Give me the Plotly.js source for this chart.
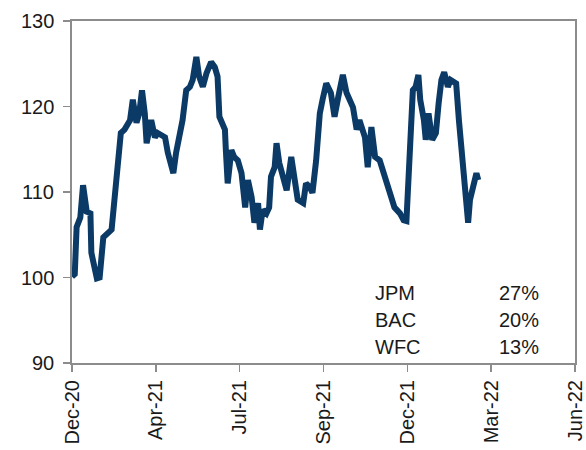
<!DOCTYPE html>
<html>
<head>
<meta charset="utf-8">
<script src="https://cdn.plot.ly/plotly-3.0.1.min.js"></script>
<style>
html,body{margin:0;padding:0;background:#fff;}
#chart{width:586px;height:450px;}
</style>
</head>
<body>
<div id="chart"></div>
<script>
const dates = [
"2020-12-31","2021-01-03","2021-01-05","2021-01-09","2021-01-12","2021-01-16","2021-01-20","2021-01-21",
"2021-01-27","2021-01-30","2021-02-03","2021-02-08","2021-02-12","2021-02-15","2021-02-19","2021-02-22",
"2021-02-26","2021-03-04","2021-03-07","2021-03-11","2021-03-14","2021-03-17","2021-03-20","2021-03-22",
"2021-03-27","2021-03-31","2021-04-03","2021-04-11","2021-04-14","2021-04-20","2021-04-23","2021-04-27",
"2021-04-30","2021-05-04","2021-05-08","2021-05-11","2021-05-15","2021-05-18","2021-05-22","2021-05-26",
"2021-05-31","2021-06-04","2021-06-07","2021-06-09","2021-06-15","2021-06-16","2021-06-18","2021-06-22",
"2021-06-25","2021-06-29","2021-07-03","2021-07-07","2021-07-10","2021-07-14","2021-07-17","2021-07-21",
"2021-07-23","2021-07-26","2021-07-30","2021-08-02","2021-08-04","2021-08-08","2021-08-10","2021-08-13",
"2021-08-17","2021-08-21","2021-08-26","2021-08-30","2021-09-02","2021-09-08","2021-09-11","2021-09-15",
"2021-09-18","2021-09-22","2021-09-26","2021-09-29","2021-10-03","2021-10-08","2021-10-12","2021-10-16",
"2021-10-21","2021-10-25","2021-10-28","2021-11-01","2021-11-05","2021-11-08","2021-11-14","2021-11-17",
"2021-11-21","2021-11-25","2021-11-30","2021-12-04","2021-12-09","2021-12-13","2021-12-16","2021-12-22",
"2021-12-26","2021-12-29","2022-01-01","2022-01-05","2022-01-08","2022-01-11","2022-01-13","2022-01-17",
"2022-01-19","2022-01-22","2022-01-26","2022-01-30","2022-02-02","2022-02-05","2022-02-08","2022-02-12",
"2022-02-15","2022-02-21","2022-02-24","2022-02-26","2022-03-02","2022-03-06","2022-03-08","2022-03-11",
"2022-03-15","2022-03-17"
];
const values = [
100.1,100.4,105.9,107.0,110.8,107.7,107.5,102.9,
99.9,100.0,104.7,105.2,105.6,109.0,113.7,116.9,
117.3,118.4,120.8,118.1,119.2,121.9,119.2,115.7,
118.4,116.4,116.9,116.4,114.6,112.2,114.6,116.5,
118.4,121.9,122.3,123.1,125.8,123.5,122.3,123.9,
125.2,124.6,123.5,118.8,117.3,114.9,111.0,114.9,
114.1,113.7,112.2,108.2,111.4,109.4,106.4,108.7,
105.6,107.9,107.5,108.2,111.8,112.9,115.7,113.4,
111.4,110.2,114.1,110.6,109.1,108.7,111.0,110.6,
109.9,113.7,119.2,120.8,122.7,121.6,118.8,121.1,
123.7,121.6,120.8,119.9,117.3,118.4,116.4,112.9,
117.6,114.1,113.7,112.2,110.6,109.1,108.2,107.5,
106.7,106.6,113.7,121.9,122.3,123.7,120.8,118.4,
116.1,119.2,116.1,116.9,120.4,123.1,124.0,122.3,
123.1,122.7,118.4,116.1,111.4,106.4,109.1,110.2,
112.2,111.4
];
const tickDates = ["2020-12-31","2021-04-01","2021-07-01","2021-09-30","2021-12-30","2022-03-31","2022-06-30"];
const tickLabels = ["Dec-20","Apr-21","Jul-21","Sep-21","Dec-21","Mar-22","Jun-22"];
const yTicks = [90,100,110,120,130];
const yTickLabels = ["90","100","110","120","130"];
const names = ["JPM","BAC","WFC"];
const shares = ["27%","20%","13%"];

const fam = "Liberation Sans, Arial, sans-serif";
const font = {family:fam, size:20, color:"#1a1a1a"};
const annY = [0.205,0.126,0.047];
const annotations = [];
names.forEach((n,i)=>{
  annotations.push({xref:"paper",yref:"paper",x:0.598,y:annY[i],text:n,showarrow:false,xanchor:"left",yanchor:"middle",font:font});
  annotations.push({xref:"paper",yref:"paper",x:0.932,y:annY[i],text:shares[i],showarrow:false,xanchor:"right",yanchor:"middle",font:font});
});
yTicks.forEach((v,i)=>{
  annotations.push({xref:"paper",yref:"y",x:-0.036,y:v,text:yTickLabels[i],showarrow:false,xanchor:"right",yanchor:"middle",font:font,borderpad:0,borderwidth:0});
});

Plotly.newPlot("chart",[{
  x:dates, y:values, type:"scatter", mode:"lines",
  line:{color:"#0b3a66", width:6}, hoverinfo:"skip"
}],{
  width:586,height:450,
  margin:{l:72,r:11,t:21,b:87,pad:0},
  paper_bgcolor:"#fff",plot_bgcolor:"#fff",
  showlegend:false,
  xaxis:{
    type:"date", range:[tickDates[0],tickDates[tickDates.length-1]],
    tickmode:"array", tickvals:tickDates, ticktext:tickLabels, tickangle:-90,
    showgrid:false, zeroline:false, showline:true, linecolor:"#8c8c8c", linewidth:2,
    mirror:true, ticks:"outside", ticklen:7, tickcolor:"#8c8c8c", tickwidth:1.5,
    tickfont:{family:fam, size:20, color:"#1a1a1a"}
  },
  yaxis:{
    range:[90,130], tickmode:"array", tickvals:yTicks, showticklabels:false,
    showgrid:false, zeroline:false, showline:true, linecolor:"#8c8c8c", linewidth:2,
    mirror:true, ticks:"outside", ticklen:7, tickcolor:"#8c8c8c", tickwidth:1.5
  },
  annotations:annotations
},{staticPlot:true,displayModeBar:false});
</script>
</body>
</html>
